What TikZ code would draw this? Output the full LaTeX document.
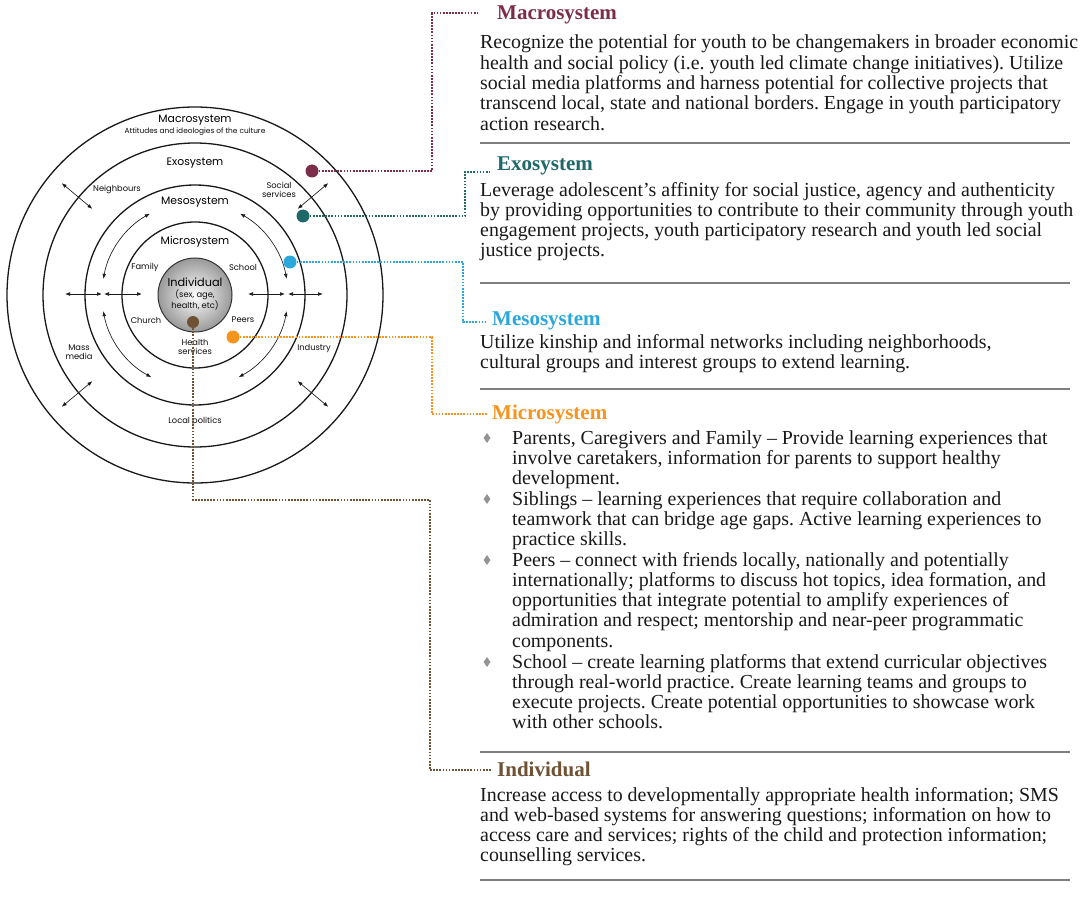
\documentclass[tikz,border=0pt]{standalone}
\usepackage{fontspec}
\setmainfont{Liberation Serif}
\newfontfamily\geo{Poppins}
\usetikzlibrary{arrows.meta,shapes.geometric}
\frenchspacing
\definecolor{cMacro}{HTML}{7B2D4A}
\definecolor{cExo}{HTML}{1F6A68}
\definecolor{cMeso}{HTML}{2AA8DC}
\definecolor{cMicro}{HTML}{F7941D}
\definecolor{cInd}{HTML}{6E5233}
\definecolor{sepgray}{HTML}{7F7F7F}
\tikzset{
  ring/.style={line width=1.3pt, draw=black!90},
  dbl/.style={line width=0.65pt, black!90, {Latex[length=5pt,width=3.8pt]}-{Latex[length=5pt,width=3.8pt]}},
  lab/.style={font=\geo\fontsize{8.3}{9.6}\selectfont, align=center, inner sep=0, text=black!95},
  sysl/.style={font=\geo\fontsize{10.8}{12}\selectfont, inner sep=0, text=black},
  conn/.style={draw=#1, line width=2.6pt, dash pattern=on 1.7pt off 1.4pt},
  cdot/.style={circle, fill=#1, minimum size=13pt, inner sep=0},
  hdr/.style={font=\bfseries\fontsize{21}{24}\selectfont, anchor=base west, inner sep=0, text=#1},
  bodytxt/.style={font=\fontsize{19.9}{20.3}\selectfont, anchor=base west, align=left, inner sep=0, text=black!90},
  sepline/.style={draw=sepgray, line width=2.6pt},
  bul/.style={diamond, fill=gray!85, inner sep=0, minimum width=7pt, minimum height=10pt}
}
\begin{document}
\begin{tikzpicture}[x=1pt,y=-1pt]
\useasboundingbox (0,0) rectangle (1084,912);
\fill[white] (0,0) rectangle (1084,912);

% ---------- circle diagram ----------
\begin{scope}[shift={(195,295)}, y=1pt]
  \draw[ring] (0,0) circle[radius=188];
  \draw[ring] (0,0) circle[radius=152];
  \draw[ring] (0,0) circle[radius=110];
  \draw[ring] (0,0) circle[radius=73];
  \shade[inner color=white, outer color=gray!80, draw=black!80, line width=1pt] (0,0) circle[radius=37];

  \node[sysl] (lMac) at (0,175) {Macrosystem};
  \node[lab, font=\geo\fontsize{7.4}{8}\selectfont] (lAtt) at (0,163) {Attitudes and ideologies of the culture};
  \node[sysl] (lExo) at (0,132) {Exosystem};
  \node[sysl] (lMes) at (0,93) {Mesosystem};
  \node[sysl] (lMic) at (0,53) {Microsystem};
  \node[sysl, font=\geo\fontsize{11.3}{12}\selectfont] (lInd) at (0,13) {Individual};
  \node[lab, font=\geo\fontsize{8.3}{9.8}\selectfont] (lSex) at (0,-5) {(sex, age,\\health, etc)};

  \node[lab] (lFam) at (-50,28) {Family};
  \node[lab] (lSch) at (48,28) {School};
  \node[lab] (lChu) at (-49,-25) {Church};
  \node[lab] (lPee) at (48,-25) {Peers};
  \node[lab] (lHea) at (0,-52) {Health\\services};
  \node[lab] (lNei) at (-78,106) {Neighbours};
  \node[lab] (lSoc) at (84,105) {Social\\services};
  \node[lab] (lMas) at (-116,-57) {Mass\\media};
  \node[lab] (lIndu) at (119,-53) {Industry};
  \node[lab] (lLoc) at (0,-126) {Local politics};

  % horizontal arrows
  \draw[dbl] (-130,1) -- (-93,1);
  \draw[dbl] (-91,1) -- (-53,1);
  \draw[dbl] (53,1) -- (90,1);
  \draw[dbl] (93,1) -- (128,1);
  % curved arrows
  \draw[dbl] (170:93) arc[start angle=170, end angle=119, radius=93];
  \draw[dbl] (10:93) arc[start angle=10, end angle=61, radius=93];
  \draw[dbl] (-170:93) arc[start angle=-170, end angle=-118, radius=93];
  \draw[dbl] (-10:93) arc[start angle=-10, end angle=-62, radius=93];
  % radial arrows
  \draw[dbl] (140:134) -- (140:174);
  \draw[dbl] (40:134) -- (40:174);
  \draw[dbl] (-140:134) -- (-140:174);
  \draw[dbl] (-40:134) -- (-40:174);
\end{scope}

% ---------- coloured dots ----------
\node[cdot=cMacro] (dMa) at (312,171) {};
\node[cdot=cExo] (dEx) at (303,216) {};
\node[cdot=cMeso] (dMe) at (290,262) {};
\node[cdot=cMicro] (dMi) at (233,337) {};
\node[cdot=cInd, minimum size=12pt] (dIn) at (193,322) {};

% ---------- right column (base = baseline of the last line) ----------
\node[hdr=cMacro] (hMa) at (497,20) {Macrosystem};
\node[bodytxt] (tMa) at (480,130.2) {Recognize the potential for youth to be changemakers in broader economic\\
health and social policy (i.e. youth led climate change initiatives). Utilize\\
social media platforms and harness potential for collective projects that\\
transcend local, state and national borders. Engage in youth participatory\\
action research.};
\draw[sepline] (480,143) -- (1070,143);

\node[hdr=cExo] (hEx) at (497,171) {Exosystem};
\node[bodytxt] (tEx) at (480,256.9) {Leverage adolescent’s affinity for social justice, agency and authenticity\\
by providing opportunities to contribute to their community through youth\\
engagement projects, youth participatory research and youth led social\\
justice projects.};
\draw[sepline] (480,283) -- (1070,283);

\node[hdr=cMeso] (hMe) at (492,325) {Mesosystem};
\node[bodytxt] (tMe) at (480,368.3) {Utilize kinship and informal networks including neighborhoods,\\
cultural groups and interest groups to extend learning.};
\draw[sepline] (480,389) -- (1070,389);

\node[hdr=cMicro] (hMi) at (492,419) {Microsystem};
\node[bul] (b1) at (487,438) {};
\node[bodytxt] (tM1) at (512,484.6) {Parents, Caregivers and Family – Provide learning experiences that\\
involve caretakers, information for parents to support healthy\\
development.};
\node[bul] (b2) at (487,499) {};
\node[bodytxt] (tM2) at (512,545.6) {Siblings – learning experiences that require collaboration and\\
teamwork that can bridge age gaps. Active learning experiences to\\
practice skills.};
\node[bul] (b3) at (487,560) {};
\node[bodytxt] (tM3) at (512,647.2) {Peers – connect with friends locally, nationally and potentially\\
internationally; platforms to discuss hot topics, idea formation, and\\
opportunities that integrate potential to amplify experiences of\\
admiration and respect; mentorship and near-peer programmatic\\
components.};
\node[bul] (b4) at (487,662) {};
\node[bodytxt] (tM4) at (512,728.9) {School – create learning platforms that extend curricular objectives\\
through real-world practice. Create learning teams and groups to\\
execute projects. Create potential opportunities to showcase work\\
with other schools.};
\draw[sepline] (480,752) -- (1070,752);

\node[hdr=cInd] (hIn) at (497,776) {Individual};
\node[bodytxt] (tIn) at (480,861.9) {Increase access to developmentally appropriate health information; SMS\\
and web-based systems for answering questions; information on how to\\
access care and services; rights of the child and protection information;\\
counselling services.};
\draw[sepline] (480,880) -- (1070,880);

% ---------- connectors ----------
\coordinate (eMa) at (478,13);
\coordinate (eEx) at (490,172);
\coordinate (eMe) at (487,322);
\coordinate (eMi) at (487,414);
\coordinate (eIn) at (492,770);
\coordinate (kIn) at (430,500);
\draw[conn=cMacro] (dMa) -- (432,171) |- (eMa);
\draw[conn=cExo] (dEx) -- (465,216) |- (eEx);
\draw[conn=cMeso] (dMe) -- (463,262) |- (eMe);
\draw[conn=cMicro] (dMi) -- (432,337) |- (eMi);
\draw[conn=cInd] (dIn) |- (kIn) |- (eIn);
\end{tikzpicture}
\end{document}
